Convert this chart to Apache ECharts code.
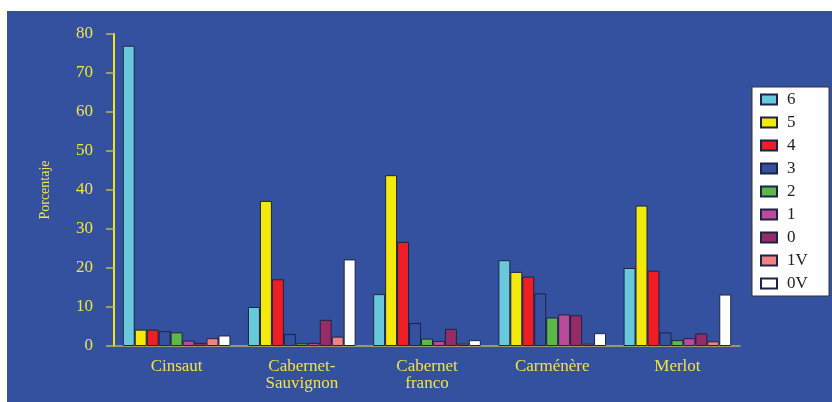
<!DOCTYPE html>
<html>
<head>
<meta charset="utf-8">
<script src="https://cdn.jsdelivr.net/npm/echarts@6/dist/echarts.min.js"></script>
<style>
  html, body {margin: 0; padding: 0; background: #fff;}
  #main {width: 832px; height: 402px;}
</style>
</head>
<body>
<div id="main"></div>
<script>
// categories (x axis) and legend names
const categories = ['Cinsaut', 'Cabernet-\nSauvignon', 'Cabernet\nfranco', 'Carménère', 'Merlot'];
const seriesNames = ['6', '5', '4', '3', '2', '1', '0', '1V', '0V'];
const seriesColors = ['#67C9DB', '#F3EA0B', '#EE1E25', '#3451A0', '#5DB848', '#BA4A9B', '#962C66', '#F28282', '#FFFFFF'];

// porcentaje por categoria, one array per legend entry
const s6 = [77.0, 10.0, 13.3, 22.0, 20.0];
const s5 = [4.2, 37.2, 43.8, 19.0, 36.0];
const s4 = [4.2, 17.1, 26.7, 17.8, 19.3];
const s3 = [3.8, 3.1, 5.9, 13.5, 3.5];
const s2 = [3.5, 0.7, 1.9, 7.3, 1.5];
const s1 = [1.4, 0.8, 1.3, 8.1, 2.0];
const s0 = [0.8, 6.7, 4.4, 7.9, 3.2];
const s1V = [2.0, 2.4, 0.6, 0.6, 1.2];
const s0V = [2.7, 22.2, 1.5, 3.3, 13.2];
const seriesValues = [s6, s5, s4, s3, s2, s1, s0, s1V, s0V];

const yTicks = {min: 0, max: 80, interval: 10};

const bg = '#3451A0';
const yellow = '#F0E442';
const serif = '"Liberation Serif", "DejaVu Serif", serif';

let chart = echarts.init(document.getElementById('main'));

let series = seriesNames.map((name, i) => ({
    name: name,
    type: 'bar',
    data: seriesValues[i],
    barGap: '0%',
    barCategoryGap: '14%',
    itemStyle: {color: seriesColors[i], borderColor: '#1D2344', borderWidth: 1},
    emphasis: {disabled: true},
}));

chart.setOption({
    backgroundColor: '#fff',
    animation: false,
    graphic: [{
        type: 'rect', z: -10, silent: true,
        shape: {x: 7, y: 11, width: 825, height: 391},
        style: {fill: bg},
    }],
    grid: {left: 114, right: 92, top: 34, bottom: 56},
    legend: {
        orient: 'vertical',
        left: 752, top: 87,
        backgroundColor: '#fff',
        borderColor: '#333',
        borderWidth: 1,
        padding: [4, 8, 4, 8],
        itemWidth: 16, itemHeight: 10, itemGap: 6,
        icon: 'rect',
        data: seriesNames,
        textStyle: {
            fontFamily: serif, fontSize: 17, color: '#222',
            lineHeight: 16, width: 34, padding: [0, 0, 0, 5],
        },
    },
    xAxis: {
        type: 'category',
        data: categories,
        axisLine: {lineStyle: {color: '#B9B25E', width: 1.5}},
        axisTick: {interval: 0, length: 5, lineStyle: {color: '#E8DC30', width: 1.5}},
        axisLabel: {
            interval: 0, margin: 12, color: yellow,
            fontFamily: serif, fontSize: 17, lineHeight: 17,
        },
    },
    yAxis: {
        type: 'value',
        min: yTicks.min, max: yTicks.max, interval: yTicks.interval,
        name: 'Porcentaje',
        nameLocation: 'middle',
        nameRotate: 90,
        nameGap: 62,
        nameTextStyle: {color: yellow, fontFamily: serif, fontSize: 14},
        axisLine: {show: true, lineStyle: {color: '#F2E41E', width: 2}},
        axisTick: {show: true, length: 8, lineStyle: {color: '#BDB45A', width: 1.5}},
        axisLabel: {margin: 21, color: yellow, fontFamily: serif, fontSize: 17},
        splitLine: {show: false},
    },
    series: series,
});
</script>
</body>
</html>
